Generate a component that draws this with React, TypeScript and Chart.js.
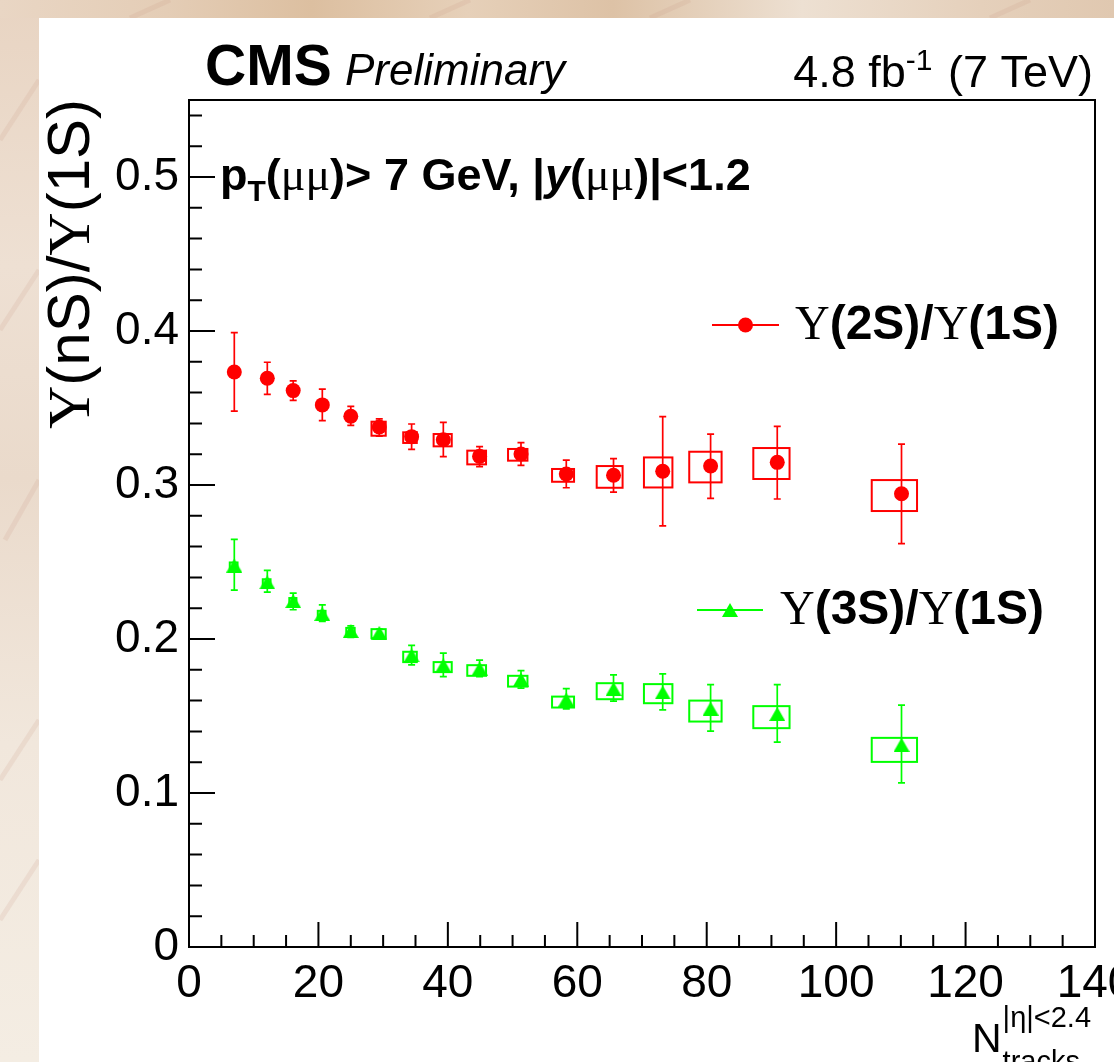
import React, { useEffect, useRef } from "react";
import { Chart, registerables } from "chart.js";
Chart.register(...registerables);

// ---------- data ----------
const nTracks = [7.0, 12.1, 16.1, 20.6, 25.0, 29.4, 34.4, 39.3, 44.9, 51.3, 58.3, 65.6, 73.2, 80.6, 90.9, 110.1];
const binLow = [6.3, 11.4, 15.5, 19.9, 24.3, 28.2, 33.1, 37.8, 43.0, 49.3, 56.1, 63.0, 70.3, 77.3, 87.2, 105.5];
const binHigh = [7.5, 12.6, 16.6, 21.1, 25.6, 30.4, 35.2, 40.6, 45.9, 52.3, 59.5, 67.0, 74.7, 82.3, 92.8, 112.5];

const ratio2S = [0.3734, 0.3693, 0.3613, 0.352, 0.3446, 0.3377, 0.3314, 0.3294, 0.3186, 0.3201, 0.3071, 0.3063, 0.3089, 0.3123, 0.3147, 0.2943];
const ratio2SStatLow = [0.348, 0.3589, 0.355, 0.3418, 0.3387, 0.3318, 0.3231, 0.3184, 0.3119, 0.3127, 0.2982, 0.2954, 0.2734, 0.2913, 0.2909, 0.2619];
const ratio2SStatHigh = [0.399, 0.3797, 0.3676, 0.3623, 0.351, 0.343, 0.3396, 0.3407, 0.3249, 0.3275, 0.3162, 0.3171, 0.3444, 0.3331, 0.3381, 0.3266];
const ratio2SSystLow = [0.3712, 0.3671, 0.3591, 0.3498, 0.3424, 0.332, 0.3273, 0.3251, 0.3134, 0.3158, 0.3021, 0.2982, 0.2984, 0.3017, 0.3039, 0.2831];
const ratio2SSystHigh = [0.3756, 0.3715, 0.3635, 0.3542, 0.3468, 0.3411, 0.3342, 0.3331, 0.3223, 0.3234, 0.3104, 0.3123, 0.3179, 0.3216, 0.324, 0.3032];

const ratio3S = [0.2477, 0.2368, 0.2246, 0.2163, 0.2052, 0.204, 0.1894, 0.1829, 0.1808, 0.1737, 0.1607, 0.1676, 0.1653, 0.1548, 0.1513, 0.1313];
const ratio3SStatLow = [0.2318, 0.2305, 0.219, 0.2114, 0.201, 0.2005, 0.1832, 0.1756, 0.1756, 0.1681, 0.1546, 0.1597, 0.154, 0.1402, 0.133, 0.1066];
const ratio3SStatHigh = [0.2647, 0.2445, 0.2298, 0.2222, 0.2085, 0.2065, 0.1958, 0.1908, 0.1863, 0.1795, 0.1678, 0.1767, 0.1774, 0.1704, 0.1704, 0.157];
const ratio3SSystLow = [0.2457, 0.2348, 0.2226, 0.2143, 0.2032, 0.2005, 0.185, 0.1785, 0.1761, 0.1691, 0.1555, 0.1609, 0.1583, 0.1464, 0.1421, 0.1202];
const ratio3SSystHigh = [0.2497, 0.2388, 0.2266, 0.2183, 0.2072, 0.2064, 0.1917, 0.185, 0.183, 0.1761, 0.1626, 0.1713, 0.1707, 0.16, 0.1564, 0.1358];

const xMin = 0;
const xMax = 140;
const xStep = 20;
const xMinorStep = 5;
const yMin = 0;
const yMax = 0.55;
const yStep = 0.1;
const yMinorStep = 0.02;

const RED = "#ff0000";
const GREEN = "#00ff00";
const SANS = '"Liberation Sans", Arial, Helvetica, sans-serif';
const SERIF = '"Liberation Serif", "Times New Roman", serif';

type Run = { t: string; f: string; dy?: number; dx?: number };

function runsWidth(ctx: CanvasRenderingContext2D, runs: Run[]) {
  let w = 0;
  for (const r of runs) {
    ctx.font = r.f;
    w += ctx.measureText(r.t).width + (r.dx || 0);
  }
  return w;
}

function drawRuns(ctx: CanvasRenderingContext2D, runs: Run[], x: number, y: number, align: "left" | "right" = "left") {
  let cx = align === "right" ? x - runsWidth(ctx, runs) : x;
  ctx.textAlign = "left";
  ctx.textBaseline = "alphabetic";
  for (const r of runs) {
    ctx.font = r.f;
    ctx.fillText(r.t, cx, y + (r.dy || 0));
    cx += ctx.measureText(r.t).width + (r.dx || 0);
  }
}

function makeTriangle(color: string, w: number, h: number) {
  const c = document.createElement("canvas");
  c.width = w;
  c.height = h;
  const g = c.getContext("2d")!;
  g.fillStyle = color;
  g.beginPath();
  g.moveTo(w / 2, 0);
  g.lineTo(w, h);
  g.lineTo(0, h);
  g.closePath();
  g.fill();
  return c;
}

export default function App() {
  const ref = useRef<HTMLCanvasElement | null>(null);

  useEffect(() => {
    const canvas = ref.current;
    if (!canvas) return;
    const tri = makeTriangle(GREEN, 16, 14);

    const series = [
      { v: ratio2S, lo: ratio2SStatLow, hi: ratio2SStatHigh, slo: ratio2SSystLow, shi: ratio2SSystHigh, color: RED },
      { v: ratio3S, lo: ratio3SStatLow, hi: ratio3SStatHigh, slo: ratio3SSystLow, shi: ratio3SSystHigh, color: GREEN },
    ];

    const backgroundPlugin = {
      id: "bg",
      beforeDraw(chart: any) {
        const ctx: CanvasRenderingContext2D = chart.ctx;
        const W = chart.width;
        const H = chart.height;
        ctx.save();
        ctx.fillStyle = "#ecdccd";
        ctx.fillRect(0, 0, W, H);
        const g = ctx.createLinearGradient(0, 0, W, 0);
        g.addColorStop(0, "#e9d6c4");
        g.addColorStop(0.15, "#e4cdb6");
        g.addColorStop(0.28, "#dcbfa0");
        g.addColorStop(0.42, "#e6d0b9");
        g.addColorStop(0.55, "#ddc2a6");
        g.addColorStop(0.72, "#ede0d2");
        g.addColorStop(0.88, "#e5d0bb");
        g.addColorStop(1, "#e0c8b0");
        ctx.fillStyle = g;
        ctx.fillRect(0, 0, W, 18);
        const g2 = ctx.createLinearGradient(0, 0, 0, H);
        g2.addColorStop(0, "#e8d4c2");
        g2.addColorStop(0.25, "#eee0d3");
        g2.addColorStop(0.45, "#eadacb");
        g2.addColorStop(0.7, "#f1e7dc");
        g2.addColorStop(1, "#f4ede3");
        ctx.fillStyle = g2;
        ctx.fillRect(0, 18, 39, H);
        ctx.strokeStyle = "rgba(200,150,130,0.16)";
        ctx.lineWidth = 5;
        const streaks = [
          [0, 140, 39, 80], [0, 330, 39, 270], [5, 540, 39, 480], [0, 780, 39, 720], [0, 920, 39, 860],
          [130, 18, 170, 0], [430, 18, 470, 0], [650, 18, 690, 0], [990, 18, 1030, 0],
        ];
        for (const s of streaks) {
          ctx.beginPath();
          ctx.moveTo(s[0], s[1]);
          ctx.lineTo(s[2], s[3]);
          ctx.stroke();
        }
        ctx.fillStyle = "#ffffff";
        ctx.fillRect(39, 18, W - 39, H - 18);
        ctx.restore();
      },
    };

    const errorPlugin = {
      id: "errs",
      beforeDatasetsDraw(chart: any) {
        const ctx: CanvasRenderingContext2D = chart.ctx;
        const xs = chart.scales.x;
        const ys = chart.scales.y;
        ctx.save();
        for (const s of series) {
          ctx.strokeStyle = s.color;
          ctx.lineWidth = 2;
          for (let i = 0; i < nTracks.length; i++) {
            const x0 = xs.getPixelForValue(binLow[i]);
            const x1 = xs.getPixelForValue(binHigh[i]);
            const y0 = ys.getPixelForValue(s.shi[i]);
            const y1 = ys.getPixelForValue(s.slo[i]);
            ctx.strokeRect(x0, y0, x1 - x0, y1 - y0);
          }
          ctx.lineWidth = 1.7;
          for (let i = 0; i < nTracks.length; i++) {
            const x = xs.getPixelForValue(nTracks[i]);
            const yl = ys.getPixelForValue(s.lo[i]);
            const yh = ys.getPixelForValue(s.hi[i]);
            ctx.beginPath();
            ctx.moveTo(x, yl);
            ctx.lineTo(x, yh);
            ctx.moveTo(x - 3.5, yl);
            ctx.lineTo(x + 3.5, yl);
            ctx.moveTo(x - 3.5, yh);
            ctx.lineTo(x + 3.5, yh);
            ctx.stroke();
          }
        }
        ctx.restore();
      },
    };

    const framePlugin = {
      id: "frame",
      afterDraw(chart: any) {
        const ctx: CanvasRenderingContext2D = chart.ctx;
        const a = chart.chartArea;
        const xs = chart.scales.x;
        const ys = chart.scales.y;
        ctx.save();
        ctx.strokeStyle = "#000";
        ctx.lineWidth = 2;
        ctx.strokeRect(a.left, a.top, a.right - a.left, a.bottom - a.top);
        ctx.beginPath();
        const nx = Math.round((xMax - xMin) / xMinorStep);
        const perX = Math.round(xStep / xMinorStep);
        for (let i = 1; i < nx; i++) {
          const px = xs.getPixelForValue(xMin + i * xMinorStep);
          const len = i % perX === 0 ? 25 : 12;
          ctx.moveTo(px, a.bottom);
          ctx.lineTo(px, a.bottom - len);
        }
        const ny = Math.floor((yMax - yMin) / yMinorStep + 1e-6);
        const perY = Math.round(yStep / yMinorStep);
        for (let i = 1; i <= ny; i++) {
          const py = ys.getPixelForValue(yMin + i * yMinorStep);
          const len = i % perY === 0 ? 26 : 13;
          ctx.moveTo(a.left, py);
          ctx.lineTo(a.left + len, py);
        }
        ctx.stroke();

        ctx.fillStyle = "#000";
        drawRuns(ctx, [{ t: "CMS", f: `bold 57px ${SANS}` }], 205, 85);
        drawRuns(ctx, [{ t: "Preliminary", f: `italic 44px ${SANS}` }], 345, 85);
        drawRuns(
          ctx,
          [
            { t: "4.8 fb", f: `45px ${SANS}` },
            { t: "-1", f: `30px ${SANS}`, dy: -17, dx: 3 },
            { t: " (7 TeV)", f: `45px ${SANS}` },
          ],
          1093,
          87,
          "right"
        );
        drawRuns(
          ctx,
          [
            { t: "p", f: `bold 45px ${SANS}` },
            { t: "T", f: `bold 30px ${SANS}`, dy: 11 },
            { t: "(", f: `bold 45px ${SANS}` },
            { t: "μμ", f: `46px ${SERIF}` },
            { t: ")> 7 GeV, |", f: `bold 45px ${SANS}` },
            { t: "y", f: `bold italic 45px ${SANS}` },
            { t: "(", f: `bold 45px ${SANS}` },
            { t: "μμ", f: `46px ${SERIF}` },
            { t: ")|<1.2", f: `bold 45px ${SANS}` },
          ],
          220,
          190
        );
        // legend
        ctx.strokeStyle = RED;
        ctx.lineWidth = 2;
        ctx.beginPath();
        ctx.moveTo(712, 325);
        ctx.lineTo(779, 325);
        ctx.stroke();
        ctx.fillStyle = RED;
        ctx.beginPath();
        ctx.arc(745.5, 325, 7.5, 0, Math.PI * 2);
        ctx.fill();
        ctx.strokeStyle = GREEN;
        ctx.beginPath();
        ctx.moveTo(697, 610);
        ctx.lineTo(763, 610);
        ctx.stroke();
        ctx.drawImage(tri, 730 - tri.width / 2, 610 - tri.height / 2);
        ctx.fillStyle = "#000";
        const legFont = 48;
        drawRuns(
          ctx,
          [
            { t: "Υ", f: `${legFont}px ${SERIF}` },
            { t: "(2S)/", f: `bold ${legFont}px ${SANS}` },
            { t: "Υ", f: `${legFont}px ${SERIF}` },
            { t: "(1S)", f: `bold ${legFont}px ${SANS}` },
          ],
          795,
          339
        );
        drawRuns(
          ctx,
          [
            { t: "Υ", f: `${legFont}px ${SERIF}` },
            { t: "(3S)/", f: `bold ${legFont}px ${SANS}` },
            { t: "Υ", f: `${legFont}px ${SERIF}` },
            { t: "(1S)", f: `bold ${legFont}px ${SANS}` },
          ],
          780,
          624
        );
        // y title
        ctx.save();
        ctx.translate(89, 99);
        ctx.rotate(-Math.PI / 2);
        drawRuns(
          ctx,
          [
            { t: "Υ", f: `60px ${SERIF}` },
            { t: "(nS)/", f: `60px ${SANS}` },
            { t: "Υ", f: `60px ${SERIF}` },
            { t: "(1S)", f: `60px ${SANS}` },
          ],
          0,
          0,
          "right"
        );
        ctx.restore();
        // x title
        ctx.font = `41px ${SANS}`;
        const nW = ctx.measureText("N").width;
        drawRuns(ctx, [{ t: "N", f: `41px ${SANS}` }], 972, 1052);
        drawRuns(ctx, [{ t: "|η|<2.4", f: `29px ${SANS}` }], 972 + nW + 1, 1027);
        drawRuns(ctx, [{ t: "tracks", f: `29px ${SANS}` }], 972 + nW + 1, 1071);
        ctx.restore();
      },
    };

    const chart = new Chart(canvas, {
      type: "scatter",
      data: {
        datasets: [
          {
            label: "Υ(2S)/Υ(1S)",
            data: nTracks.map((x, i) => ({ x, y: ratio2S[i] })),
            pointStyle: "circle",
            pointRadius: 7.5,
            backgroundColor: RED,
            borderColor: RED,
            borderWidth: 0,
            showLine: false,
          },
          {
            label: "Υ(3S)/Υ(1S)",
            data: nTracks.map((x, i) => ({ x, y: ratio3S[i] })),
            pointStyle: tri as any,
            pointRadius: 8,
            backgroundColor: GREEN,
            borderColor: GREEN,
            borderWidth: 0,
            showLine: false,
          },
        ],
      },
      options: {
        animation: false,
        responsive: false,
        devicePixelRatio: 1,
        events: [],
        layout: { padding: { top: 100, right: 19, left: 0, bottom: 0 } },
        plugins: { legend: { display: false }, tooltip: { enabled: false } },
        scales: {
          x: {
            type: "linear",
            position: "bottom",
            min: xMin,
            max: xMax,
            grid: { display: false, drawTicks: false },
            border: { display: false },
            ticks: {
              stepSize: xStep,
              includeBounds: false,
              autoSkip: false,
              maxRotation: 0,
              padding: 10,
              color: "#000",
              font: { family: SANS, size: 46 },
              callback: (v: any) => String(Math.round(Number(v))),
            },
            afterFit: (s: any) => {
              s.height = 115;
              s.paddingLeft = 0;
              s.paddingRight = 0;
            },
          },
          y: {
            type: "linear",
            min: yMin,
            max: yMax,
            grid: { display: false, drawTicks: false },
            border: { display: false },
            ticks: {
              stepSize: yStep,
              includeBounds: false,
              autoSkip: false,
              padding: 10,
              color: "#000",
              font: { family: SANS, size: 46 },
              callback: (v: any) => {
                const r = Math.round(Number(v) * 10) / 10;
                return r === 0 ? "0" : r.toFixed(1);
              },
            },
            afterFit: (s: any) => {
              s.width = 189;
              s.paddingTop = 0;
              s.paddingBottom = 0;
            },
          },
        },
      } as any,
      plugins: [backgroundPlugin, errorPlugin, framePlugin],
    });
    return () => chart.destroy();
  }, []);

  return (
    <div style={{ position: "fixed", left: 0, top: 0, width: 1114, height: 1062, overflow: "hidden" }}>
      <canvas ref={ref} width={1114} height={1062} style={{ display: "block", width: 1114, height: 1062 }} />
    </div>
  );
}
